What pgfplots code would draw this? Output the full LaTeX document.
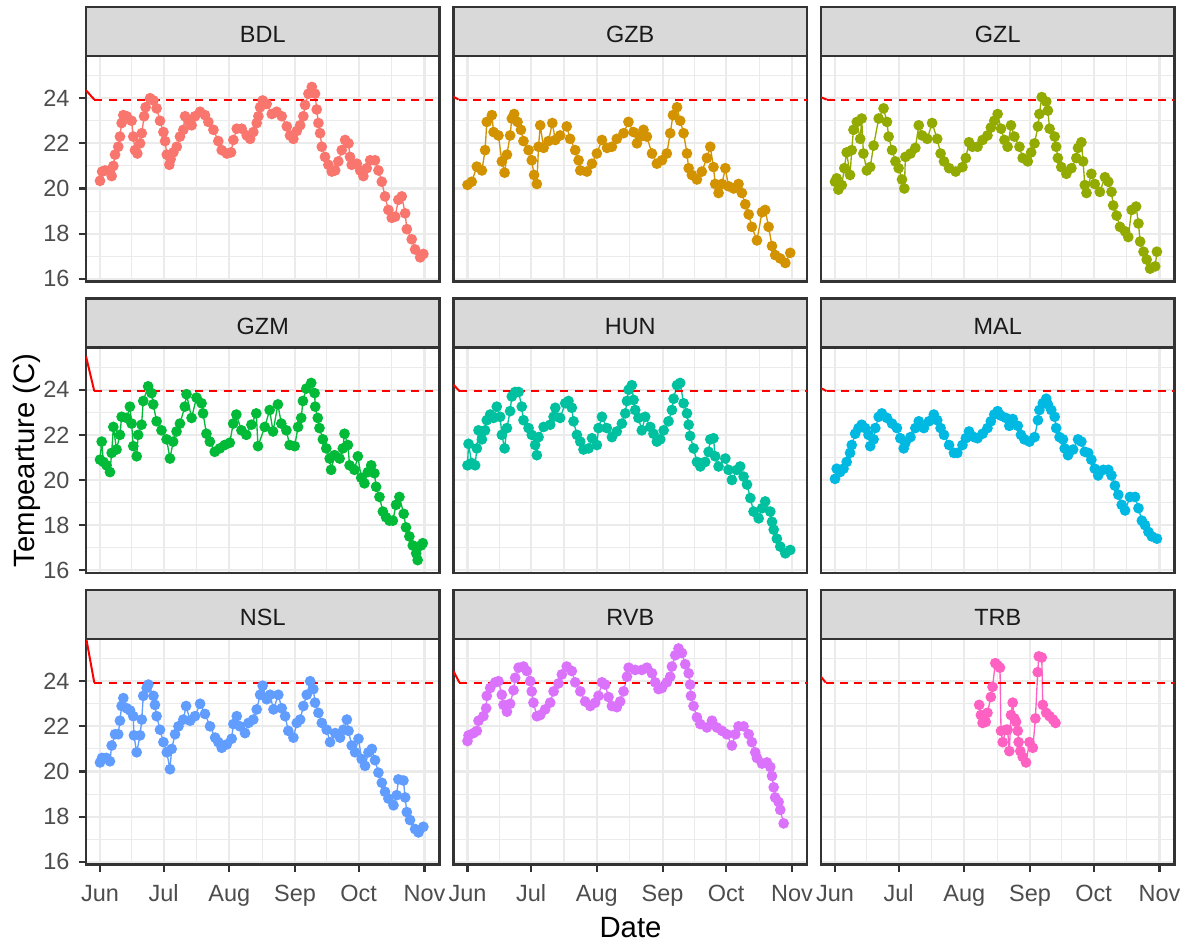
\documentclass[border=0pt]{standalone}
\usepackage{pgfplots}
\pgfplotsset{compat=1.18}
\usepackage{pgfplotstable}
\usepackage{fontspec}
\setmainfont{Liberation Sans}
\definecolor{cBDL}{HTML}{F8766D}
\definecolor{cGZB}{HTML}{D39200}
\definecolor{cGZL}{HTML}{93AA00}
\definecolor{cGZM}{HTML}{00BA38}
\definecolor{cHUN}{HTML}{00C19F}
\definecolor{cMAL}{HTML}{00B9E3}
\definecolor{cNSL}{HTML}{619CFF}
\definecolor{cRVB}{HTML}{DB72FB}
\definecolor{cTRB}{HTML}{FF61C3}
\definecolor{gridgray}{HTML}{EBEBEB}
\definecolor{grey20}{HTML}{333333}
\definecolor{grey30}{HTML}{4D4D4D}
\definecolor{grey10}{HTML}{1A1A1A}
\definecolor{stripgray}{HTML}{D9D9D9}
\definecolor{ggred}{HTML}{FF0000}

\pgfplotstableread{
d t
0 20.34
1 20.75
2.4 20.8
4.7 20.8
5.5 20.55
6.3 21.0
7.1 21.5
8.6 21.85
9.4 22.3
10.2 22.9
11.0 23.25
12.6 23.2
14.9 23.0
15.7 22.3
16.5 21.7
17.6 21.55
18.9 22.0
19.7 22.45
20.8 23.2
21.5 23.6
23.6 24.0
25.2 23.9
26.7 23.55
28.3 23.0
29.9 22.5
30.7 22.1
31.5 21.5
32.7 21.05
33.3 21.3
34.6 21.6
36.2 21.85
37.7 22.3
39.3 22.6
40.1 23.2
41.7 23.0
43.2 22.8
44.8 23.2
47.2 23.4
49.5 23.25
51.1 22.95
53.5 22.6
55.8 22.1
57.4 21.7
59.8 21.55
61.8 21.6
62.9 22.15
64.5 22.65
66.8 22.65
69.2 22.35
70.8 22.2
72.3 22.5
73.9 22.9
74.7 23.2
75.5 23.6
76.7 23.9
78.6 23.75
81.0 23.3
83.3 23.4
85.7 23.2
88.1 22.75
89.6 22.35
91.2 22.2
92.8 22.55
94.4 22.8
95.9 23.2
96.7 23.7
98.3 24.2
99.9 24.5
101.4 24.2
102.2 23.5
103.0 22.9
103.8 22.45
104.6 21.85
106.1 21.4
107.7 21.05
109.3 20.75
110.9 20.8
112.4 21.2
114.0 21.7
115.6 22.15
117.2 22.0
117.9 21.4
118.7 21.05
121.1 21.1
122.7 20.8
124.2 20.55
125.8 20.9
127.4 21.25
129.7 21.25
131.3 20.8
132.9 20.3
134.4 19.65
136.0 19.05
137.6 18.7
139.2 18.75
140.7 19.5
142.3 19.65
143.9 18.9
144.7 18.2
147.0 17.75
148.6 17.3
151.0 16.95
152.5 17.1
}\tBDL

\pgfplotstableread{
d t
0 20.16
2 20.3
4.4 20.97
6.8 20.8
8.3 21.7
9.1 22.95
11.5 23.25
12.3 22.5
14.6 22.35
16.2 21.2
17.5 20.7
18.6 21.5
20.1 22.35
20.9 23.1
22 23.3
23.6 22.95
25.2 22.6
26.4 22.1
28.8 21.7
30.3 21.25
31.4 20.6
32.7 20.2
33.5 21.85
34.3 22.8
35.9 21.8
38.2 22.1
40.0 22.9
41.4 22.15
43.7 22.35
46.8 22.75
48.4 22.2
50.8 21.7
52.4 21.25
53.2 20.8
56.3 20.75
58.7 21.1
61 21.55
63.4 22.15
65.8 21.8
68.1 21.85
70.4 22.2
73.6 22.45
75.9 22.95
78.3 22.5
79.9 22.0
81.5 22.3
83.0 22.6
84.6 22.3
87.0 21.55
89.3 21.1
91.7 21.25
94.0 21.55
95.6 22.45
96.9 23.25
98.8 23.6
100.3 23.0
101.9 22.45
103.5 21.55
104.3 20.9
105.8 20.6
108.2 20.4
110.5 20.75
112.9 21.35
114.5 21.85
116.0 20.95
116.8 20.2
118.4 19.8
120 20.2
121.6 20.9
123.1 20.1
125.5 20.0
127.8 20.2
129.4 19.8
131 19.3
132.6 18.85
134.1 18.3
136.5 17.7
138.9 18.95
140.4 19.05
142 18.3
143.6 17.45
145.1 17.05
147.5 16.9
149.9 16.7
152.2 17.15
}\tGZB

\pgfplotstableread{
d t
0 20.3
0.8 20.45
1.6 19.95
3.2 20.15
4.4 20.9
5.5 21.6
7.1 20.6
7.9 21.7
8.7 22.6
10.3 22.95
11.9 22.2
12.6 23.1
13.4 21.55
15.0 20.8
16.6 20.95
18.2 21.9
20.6 23.1
22.9 23.55
24.5 22.95
25.3 22.3
26.9 21.7
28.5 21.2
30 20.9
31.6 20.4
32.7 20.0
33.2 21.4
35.6 21.55
37.9 21.8
39.5 22.8
41.1 22.35
43.5 22.2
45.8 22.9
48.2 22.2
49.8 21.55
51.4 21.2
53.8 20.9
56.9 20.75
60.1 20.95
61.7 21.35
63.2 22.05
64.8 21.85
67.2 21.85
69.6 22.15
71.9 22.35
73.5 22.7
75.1 23.0
76.7 23.3
78.3 22.65
79.9 22.15
81.4 21.85
83.0 22.8
84.6 22.3
87.0 21.85
88.5 21.35
90.9 21.2
92.5 21.6
94.1 22.0
95.7 22.75
96.4 23.3
97.5 24.05
99.6 23.85
100.4 23.45
101.2 22.65
103.6 22.3
104.3 21.85
105.1 21.35
106.7 20.95
109.1 20.65
111.5 20.9
113.8 21.35
114.6 21.8
116.2 22.05
117.0 21.2
117.8 20.15
118.6 19.8
120.9 20.65
122.5 20.2
124.9 19.85
127.3 20.5
128.9 20.3
130.4 19.85
131.2 19.25
132.8 18.8
134.4 18.3
136.8 18.1
138.3 17.85
139.9 19.05
142.0 19.2
143.1 18.45
143.9 17.65
145.5 17.2
147.0 16.85
148.6 16.45
151 16.55
151.8 17.2
}\tGZL

\pgfplotstableread{
d t
0 20.9
0.8 21.7
1.6 20.8
3.1 20.65
4.7 20.35
5.5 21.2
6.3 22.35
7.8 21.35
9.4 22.0
10.2 22.8
12.6 22.75
14.1 23.25
14.9 22.5
15.7 21.5
17.3 21.05
18.0 22.0
19.6 22.45
20.4 23.5
22.7 24.15
24.3 23.85
25.1 23.35
26.7 22.6
29.0 22.2
31.4 21.8
33.0 20.95
34.5 21.7
36.1 22.15
37.7 22.5
40.0 23.25
40.8 23.8
43.2 22.75
45.5 23.65
47.9 23.4
48.6 22.95
50.2 22.05
51.8 21.7
54.1 21.25
56.5 21.4
58.8 21.55
61.2 21.65
62.8 22.5
64.3 22.9
66.7 22.2
69.0 22.0
71.4 22.45
73.7 22.95
74.5 21.5
77.7 22.35
80.0 23.1
81.6 22.15
83.9 23.35
85.5 22.5
87.9 22.2
89.4 21.55
91.8 21.5
93.4 22.35
94.9 22.75
95.7 23.5
97.3 24.05
99.6 24.3
101.2 23.85
101.5 23.25
102.7 22.75
103.5 22.3
105.1 21.8
106.7 21.4
108.3 20.95
109.0 20.45
110.6 21.1
113.0 20.95
114.5 21.4
115.3 22.05
116.9 21.55
117.7 20.65
120.0 20.45
121.6 21.05
123.2 20.1
124.7 19.85
126.3 20.35
127.9 20.65
129.4 20.3
130.2 19.7
131.8 19.25
133.4 18.6
134.9 18.35
136.5 18.2
138.1 18.2
139.6 18.9
141.2 19.25
143.2 18.5
144.3 17.9
145.9 17.5
147.5 17.1
149.1 16.75
149.8 16.45
151.4 17.1
152.2 17.2
}\tGZM

\pgfplotstableread{
d t
0 20.65
0.5 21.6
2 20.75
3.6 20.65
4.4 21.4
5.2 22.2
6.8 21.8
8.3 22.2
9.1 22.65
10.7 22.9
12.3 22.75
13.8 23.25
15.4 22.8
16.2 22.0
17.5 21.4
18.6 22.3
20.1 23.05
20.9 23.7
22.5 23.9
24.1 23.9
25.6 23.25
26.4 22.65
28.8 22.3
30.3 22.0
31.9 21.55
32.7 21.1
33.5 21.9
35.9 22.35
39 22.45
40.6 22.8
41.4 23.2
43.7 22.75
46.1 23.4
47.6 23.5
49.2 23.2
50.0 22.6
51.6 22.0
53.2 21.7
54.7 21.35
57.1 21.4
58.7 21.85
61.0 21.55
61.8 22.3
63.4 22.8
65.7 22.3
68.1 21.9
70.4 22.15
72.8 22.5
74.4 22.95
75.2 23.5
76.0 24.0
77.5 24.2
78.3 23.55
79.1 23.1
80.6 22.75
82.2 22.2
83.8 22.8
86.2 22.35
87.7 22.05
89.3 21.7
90.9 21.8
92.5 22.2
94.8 22.6
96.4 23.1
97.2 23.6
98.8 24.2
100.3 24.3
101.9 23.4
103.5 22.95
104.3 22.45
105 21.95
106.6 21.4
108.2 20.8
109.8 20.6
112.1 20.8
113.7 21.25
114.5 21.8
116.0 21.85
116.8 21.05
118.4 20.6
121.6 20.95
123.1 20.45
124.7 20.0
127.1 20.45
128.6 20.6
130.2 20.15
131.8 19.8
133.4 19.2
134.9 18.6
137.3 18.3
138.9 18.75
140.4 19.05
142.8 18.6
143.6 18.15
144.4 17.8
145.9 17.4
147.5 17.05
149.9 16.75
152.2 16.9
}\tHUN

\pgfplotstableread{
d t
0 20.05
0.8 20.5
2.4 20.35
4 20.5
5.5 20.8
7.1 21.2
7.9 21.55
9.5 22.05
11.1 22.3
12.6 22.45
14.2 22.3
15.8 22.0
16.6 21.5
18.2 21.8
19.0 22.3
20.6 22.8
22.1 22.95
24.5 22.75
26.9 22.5
29.2 22.3
30.8 21.85
32.4 21.4
33.2 21.65
35.6 21.9
37.9 22.3
39.5 22.6
41.9 22.3
44.3 22.6
46.6 22.9
48.2 22.65
49.8 22.3
51.4 22.0
53.8 21.55
56.1 21.2
57.7 21.2
60.1 21.55
61.7 21.85
63.2 22.15
65.6 21.9
67.2 21.85
69.6 22.05
71.9 22.3
73.5 22.6
75.1 22.9
76.7 23.05
78.3 22.85
80.6 22.75
82.2 22.4
83.8 22.7
86.2 22.4
87.7 22.0
89.3 21.8
91.7 21.7
94.1 21.9
95.7 22.65
96.4 23.1
98.0 23.4
99.6 23.6
100.4 23.35
102.0 23.1
103.6 22.8
104.3 22.3
105.9 21.9
107.5 21.8
108.3 21.4
109.9 21.1
112.3 21.35
114.6 21.8
116.2 21.7
117.8 21.25
119.4 21.2
120.9 20.9
122.5 20.5
124.1 20.2
126.5 20.45
128.9 20.45
130.4 20.2
132.0 19.75
133.6 19.35
135.2 18.9
136.8 18.65
139.1 19.25
141.5 19.25
143.1 18.75
144.7 18.2
146.2 18.0
147.8 17.7
149.4 17.5
151.8 17.4
}\tMAL

\pgfplotstableread{
d t
0 20.4
1 20.6
3 20.6
4.7 20.45
5.5 21.15
7.1 21.65
8.6 21.65
9.4 22.25
10.2 22.9
11 23.25
12.6 22.8
14.2 22.7
15.7 22.45
16 21.6
17.3 20.85
18.9 21.6
19.7 22.3
20.4 23.35
22 23.7
22.8 23.85
25.2 23.35
25.9 22.95
26.7 22.45
28.3 21.85
29.9 21.3
31.5 20.85
33.0 20.1
33.8 21.0
35.4 21.65
37 22.0
39.3 22.3
40.6 22.9
42.5 22.25
44.8 22.45
47.2 23.0
49.5 22.55
51.9 22.0
54.3 21.5
55.8 21.3
57.4 21.05
59.8 21.2
62.1 21.45
62.9 22.1
64.5 22.45
66.0 22.0
68.4 21.7
70.0 22.15
72.3 22.3
73.9 22.75
75.5 23.4
76.7 23.8
78.6 23.2
80.2 23.4
81.8 22.75
84.1 23.4
85.7 22.8
87.3 22.45
88.8 21.8
91.2 21.5
92.8 22.15
94.4 22.3
95.9 22.9
97.5 23.4
99.1 24.0
100.6 23.65
101.4 23.05
103.0 22.6
104.6 22.15
106.9 21.85
108.5 21.3
110.9 21.7
113.2 21.5
114.8 21.85
116.4 22.3
117.2 21.8
118.7 21.15
120.3 20.85
121.9 21.45
123.4 20.55
125.0 20.25
126.6 20.85
128.2 21.0
129.7 20.5
131.3 19.95
132.9 19.5
134.4 19.1
136.0 18.8
138.4 18.5
139.9 18.95
140.7 19.65
143.1 19.6
143.9 18.85
144.7 18.2
146.2 17.85
148.6 17.45
150.2 17.3
152.5 17.55
}\tNSL

\pgfplotstableread{
d t
0 21.35
0.5 21.6
2.8 21.7
4.4 21.8
5.2 22.25
7.5 22.45
8.8 22.8
9.1 23.35
10.7 23.7
13.1 23.95
14.6 24.0
16.2 23.4
17.0 22.95
18.6 22.65
20.1 23.0
21.7 23.6
22.5 24.15
24.1 24.6
26.4 24.65
28.0 24.45
29.6 24.0
30.3 23.55
31.1 23.05
32.7 22.45
34.3 22.5
36.6 22.75
39 23.05
40.6 23.55
42.9 23.9
44.5 24.3
46.8 24.65
49.2 24.45
50.8 23.95
53.2 23.55
55.5 23.1
57.9 22.9
60.2 23.05
61.8 23.35
63.4 23.95
64.9 23.85
66.5 23.3
68.1 22.9
70.4 22.85
72.0 23.1
73.6 23.55
75.2 24.2
76.0 24.6
79.1 24.5
82.2 24.5
84.6 24.6
87.0 24.35
88.5 23.95
90.1 23.65
91.7 23.7
94 23.95
95.6 24.2
96.4 24.65
98.0 25.15
99.5 25.45
101.1 25.25
102.7 24.75
104.3 24.35
105.0 23.85
105.4 23.35
106.6 22.9
108.2 22.4
109.8 22.1
112.9 21.95
115.3 22.25
117.6 21.95
120.0 21.8
122.3 21.65
124.7 21.15
126.3 21.65
127.8 22.0
130.2 22.0
132.6 21.65
134.1 21.3
135.7 20.85
136.5 20.6
138.9 20.35
141.2 20.4
142.8 20.2
143.6 19.8
144.4 19.3
145.1 18.85
146.7 18.65
147.5 18.3
149.1 17.7
}\tRVB

\pgfplotstableread{
d t
68.0 22.95
68.8 22.5
69.6 22.15
71.1 22.2
71.9 22.6
73.5 23.3
74.3 23.75
75.6 24.8
76.7 24.7
77.8 24.6
78.3 21.8
79.1 21.3
80.6 21.85
81.4 21.85
82.2 20.9
83.0 22.5
83.8 23.05
84.6 22.35
85.4 22.2
86.2 21.8
86.6 21.3
87.4 20.9
88.5 20.65
90.1 20.4
91.7 21.3
93.3 21.05
94.5 22.35
95.6 24.4
96.1 25.1
97.5 25.05
98.0 22.95
99.6 22.6
101.2 22.45
102.8 22.3
104.0 22.15
}\tTRB

\pgfplotsset{
  facet/.style={
    scale only axis, width=132.56pt, height=84.56pt,
    xmin=-6.6, xmax=160.1, ymin=15.88, ymax=25.87,
    xtick={0,30,61,92,122,153}, minor xtick={15,45.5,76.5,107,137.5},
    ytick={16,18,20,22,24}, minor ytick={17,19,21,23,25},
    xticklabels={}, yticklabels={},
    grid=both,
    major grid style={draw=gridgray, line width=0.8pt},
    minor grid style={draw=gridgray, line width=0.4pt},
    axis line style={draw=grey20, line width=0.8pt},
    tick align=outside, major tick length=2.75pt, minor tick length=0pt,
    xtick pos=bottom, ytick pos=left,
    xtick style={draw=none}, ytick style={draw=none},
    ticklabel style={font=\fontsize{8.8}{10}\selectfont, text=grey30, inner sep=0pt},
    /pgf/number format/assume math mode=true,
  },
  bottomrow/.style={xtick style={draw=grey20, line width=0.8pt},
    xticklabels={Jun,Jul,Aug,Sep,Oct,Nov}, xticklabel style={anchor=base}, xticklabel shift=11.3pt},
  leftcol/.style={ytick style={draw=grey20, line width=0.8pt},
    yticklabels={16,18,20,22,24}, yticklabel style={anchor=east}, yticklabel shift=3.25pt},
  nothing/.style={},
}

% #1 left, #2 bottom, #3 colour, #4 table, #5 name, #6 red start y, #7 red end x, #8 extra style
\newcommand{\facet}[8]{%
  \begin{axis}[facet, at={(#1,#2)}, anchor=south west, #8]
    \addplot[#3, line width=0.5pt, mark=*, mark size=1.75pt,
      mark options={solid, draw=#3, fill=#3}] table[x=d, y=t] {#4};
    \addplot[ggred, line width=0.75pt] coordinates {(-6.6,#6) (#7,23.94)};
    \addplot[ggred, line width=0.75pt, dash pattern=on 3pt off 2.4pt]
      coordinates {(#7,23.94) (165,23.94)};
  \end{axis}
  \draw[fill=stripgray, draw=grey20, line width=0.8pt]
    (#1,#2+84.56pt) rectangle ++(132.56pt,18.375pt);
  \node[anchor=base, text=grey10, font=\fontsize{8.8}{10}\selectfont, inner sep=0pt]
    at (#1+66.28pt,#2+89.435pt) {#5};
}

\begin{document}
\begin{tikzpicture}
\useasboundingbox (0,0) rectangle (447.75pt,354.375pt);
\fill[white] (0,0) rectangle (447.75pt,354.375pt);
\facet{32.25pt}{248.81pt}{cBDL}{\tBDL}{BDL}{24.35}{-2.7}{leftcol}
\facet{170.06pt}{248.81pt}{cGZB}{\tGZB}{GZB}{24.06}{-4.2}{nothing}
\facet{307.875pt}{248.81pt}{cGZL}{\tGZL}{GZL}{24.04}{-3.9}{nothing}
\facet{32.25pt}{139.5pt}{cGZM}{\tGZM}{GZM}{25.48}{-2.7}{leftcol}
\facet{170.06pt}{139.5pt}{cHUN}{\tHUN}{HUN}{24.22}{-3.8}{nothing}
\facet{307.875pt}{139.5pt}{cMAL}{\tMAL}{MAL}{24.07}{-4.0}{nothing}
\facet{32.25pt}{30.19pt}{cNSL}{\tNSL}{NSL}{25.95}{-2.7}{leftcol,bottomrow}
\facet{170.06pt}{30.19pt}{cRVB}{\tRVB}{RVB}{24.44}{-3.8}{bottomrow}
\facet{307.875pt}{30.19pt}{cTRB}{\tTRB}{TRB}{24.2}{-4.4}{bottomrow}
\node[rotate=90, anchor=base, font=\fontsize{11}{13}\selectfont] at (13.1pt,181.7pt) {Tempearture (C)};
\node[anchor=base, font=\fontsize{11}{13}\selectfont] at (236.44pt,2.74pt) {Date};
\end{tikzpicture}
\end{document}
